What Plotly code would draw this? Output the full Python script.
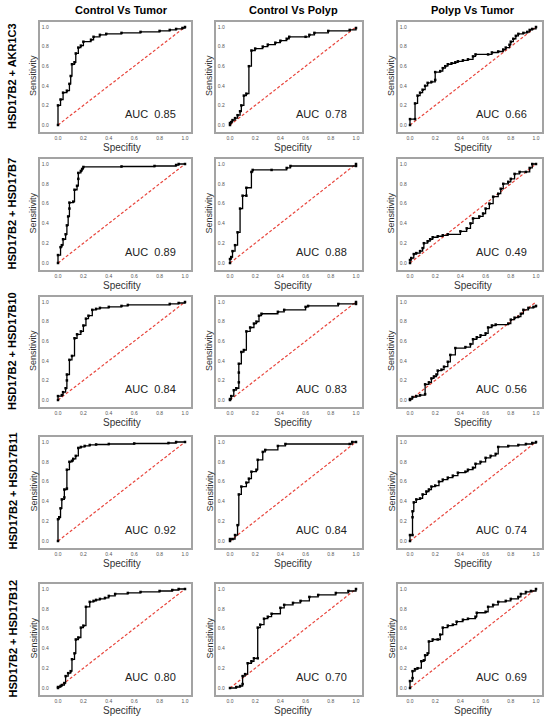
import plotly.graph_objects as go

W, H = 550, 719

comparisons = ['Control Vs Tumor', 'Control Vs Polyp', 'Polyp Vs Tumor']
combinations = ['HSD17B2 + AKR1C3', 'HSD17B2 + HSD17B7', 'HSD17B2 + HSD17B10',
                'HSD17B2 + HSD17B11', 'HSD17B2 + HSD17B12']
auc_values = [[0.85, 0.78, 0.66],
              [0.89, 0.88, 0.49],
              [0.84, 0.83, 0.56],
              [0.92, 0.84, 0.74],
              [0.80, 0.70, 0.69]]
diag = [0, 1]
tick_vals = [0, 0.2, 0.4, 0.6, 0.8, 1.0]
tick_text = ['0.0', '0.2', '0.4', '0.6', '0.8', '1.0']

# ROC steps: x where the step happens, y after the step
akr1c3_ct_x = [0, 0, 0.02, 0.04, 0.07, 0.09, 0.10, 0.11, 0.13, 0.14, 0.16, 0.18, 0.20, 0.26, 0.28, 0.33, 0.38, 0.50, 0.65, 0.80, 0.88, 0.93, 0.98, 1.0]
akr1c3_ct_y = [0, 0.20, 0.26, 0.33, 0.35, 0.42, 0.50, 0.62, 0.64, 0.73, 0.79, 0.81, 0.85, 0.87, 0.90, 0.92, 0.93, 0.94, 0.95, 0.96, 0.97, 0.98, 0.99, 1.0]
akr1c3_cp_x = [0, 0, 0.01, 0.02, 0.04, 0.06, 0.08, 0.09, 0.11, 0.13, 0.15, 0.17, 0.20, 0.26, 0.30, 0.36, 0.40, 0.45, 0.47, 0.60, 0.63, 0.67, 0.78, 0.95, 1.0]
akr1c3_cp_y = [0, 0.02, 0.03, 0.05, 0.07, 0.10, 0.14, 0.20, 0.30, 0.32, 0.60, 0.76, 0.78, 0.80, 0.82, 0.84, 0.86, 0.88, 0.90, 0.90, 0.92, 0.94, 0.96, 0.97, 0.99]
akr1c3_pt_x = [0, 0, 0.04, 0.04, 0.06, 0.08, 0.10, 0.12, 0.14, 0.17, 0.20, 0.20, 0.24, 0.26, 0.28, 0.30, 0.33, 0.36, 0.38, 0.42, 0.46, 0.50, 0.52, 0.62, 0.65, 0.70, 0.74, 0.76, 0.79, 0.80, 0.82, 0.84, 0.86, 0.90, 0.93, 0.95, 0.97, 1.0]
akr1c3_pt_y = [0, 0.06, 0.06, 0.22, 0.30, 0.33, 0.36, 0.40, 0.43, 0.44, 0.46, 0.54, 0.55, 0.58, 0.60, 0.62, 0.63, 0.64, 0.65, 0.66, 0.67, 0.70, 0.72, 0.72, 0.74, 0.75, 0.77, 0.79, 0.82, 0.85, 0.88, 0.91, 0.93, 0.94, 0.95, 0.97, 0.98, 1.0]

b7_ct_x = [0, 0, 0.02, 0.03, 0.04, 0.06, 0.07, 0.08, 0.09, 0.09, 0.12, 0.13, 0.15, 0.16, 0.16, 0.18, 0.19, 0.20, 0.50, 0.76, 0.93, 0.95, 1.0]
b7_ct_y = [0, 0.08, 0.16, 0.18, 0.24, 0.29, 0.38, 0.47, 0.55, 0.61, 0.62, 0.74, 0.78, 0.85, 0.91, 0.93, 0.95, 0.97, 0.975, 0.98, 0.99, 1.0, 1.0]
b7_cp_x = [0, 0, 0.01, 0.02, 0.04, 0.06, 0.08, 0.10, 0.13, 0.13, 0.17, 0.18, 0.33, 0.45, 0.48, 1.0, 1.0]
b7_cp_y = [0, 0.04, 0.06, 0.12, 0.18, 0.31, 0.55, 0.68, 0.68, 0.76, 0.92, 0.94, 0.94, 0.96, 0.98, 0.98, 1.0]
b7_pt_x = [0, 0, 0.01, 0.03, 0.05, 0.08, 0.10, 0.11, 0.14, 0.16, 0.18, 0.22, 0.26, 0.30, 0.40, 0.45, 0.48, 0.50, 0.55, 0.58, 0.60, 0.63, 0.66, 0.70, 0.72, 0.74, 0.78, 0.80, 0.83, 0.87, 0.92, 0.95, 0.97, 1.0]
b7_pt_y = [0, 0.03, 0.05, 0.09, 0.10, 0.12, 0.15, 0.20, 0.22, 0.24, 0.26, 0.27, 0.28, 0.29, 0.32, 0.35, 0.40, 0.45, 0.47, 0.50, 0.55, 0.60, 0.67, 0.70, 0.75, 0.80, 0.82, 0.85, 0.90, 0.92, 0.92, 0.96, 1.0, 1.0]

b10_ct_x = [0, 0, 0.03, 0.04, 0.06, 0.07, 0.07, 0.09, 0.11, 0.13, 0.15, 0.18, 0.20, 0.22, 0.24, 0.27, 0.30, 0.33, 0.40, 0.50, 0.55, 0.88, 0.95, 1.0]
b10_ct_y = [0, 0.04, 0.05, 0.08, 0.12, 0.20, 0.26, 0.41, 0.45, 0.63, 0.67, 0.70, 0.76, 0.83, 0.86, 0.92, 0.93, 0.94, 0.95, 0.96, 0.97, 0.98, 0.99, 1.0]
b10_cp_x = [0, 0, 0.01, 0.03, 0.05, 0.07, 0.07, 0.07, 0.09, 0.11, 0.13, 0.16, 0.19, 0.21, 0.23, 0.25, 0.38, 0.43, 0.60, 0.62, 0.86, 1.0, 1.0]
b10_cp_y = [0, 0.01, 0.04, 0.10, 0.12, 0.18, 0.28, 0.37, 0.49, 0.51, 0.70, 0.74, 0.78, 0.80, 0.86, 0.88, 0.90, 0.92, 0.95, 0.96, 0.98, 0.98, 1.0]
b10_pt_x = [0, 0, 0.02, 0.05, 0.08, 0.12, 0.12, 0.15, 0.17, 0.19, 0.21, 0.22, 0.25, 0.27, 0.30, 0.32, 0.36, 0.44, 0.48, 0.50, 0.53, 0.56, 0.60, 0.62, 0.65, 0.68, 0.78, 0.80, 0.83, 0.86, 0.88, 0.90, 0.94, 0.98, 1.0]
b10_pt_y = [0, 0.01, 0.03, 0.04, 0.05, 0.06, 0.16, 0.18, 0.22, 0.24, 0.26, 0.30, 0.31, 0.34, 0.39, 0.46, 0.53, 0.54, 0.57, 0.62, 0.64, 0.66, 0.68, 0.74, 0.76, 0.77, 0.78, 0.82, 0.84, 0.85, 0.88, 0.92, 0.94, 0.95, 0.96]

b11_ct_x = [0, 0, 0.01, 0.02, 0.03, 0.05, 0.05, 0.07, 0.07, 0.09, 0.11, 0.12, 0.14, 0.16, 0.18, 0.21, 0.25, 0.30, 0.40, 0.60, 0.87, 0.93, 1.0]
b11_ct_y = [0, 0.22, 0.24, 0.33, 0.42, 0.44, 0.52, 0.53, 0.72, 0.80, 0.81, 0.83, 0.86, 0.94, 0.95, 0.96, 0.97, 0.975, 0.98, 0.985, 0.99, 1.0, 1.0]
b11_cp_x = [0, 0, 0.02, 0.04, 0.06, 0.07, 0.09, 0.13, 0.15, 0.17, 0.21, 0.22, 0.26, 0.28, 0.38, 0.44, 0.95, 0.97, 1.0]
b11_cp_y = [0, 0.02, 0.02, 0.06, 0.16, 0.47, 0.55, 0.59, 0.63, 0.70, 0.72, 0.82, 0.90, 0.92, 0.96, 0.98, 0.98, 1.0, 1.0]
b11_pt_x = [0, 0, 0.02, 0.02, 0.02, 0.03, 0.05, 0.08, 0.10, 0.13, 0.15, 0.17, 0.20, 0.23, 0.26, 0.30, 0.34, 0.38, 0.44, 0.46, 0.50, 0.52, 0.56, 0.60, 0.64, 0.68, 0.70, 0.78, 0.86, 0.92, 0.97, 1.0]
b11_pt_y = [0, 0.06, 0.06, 0.24, 0.30, 0.39, 0.42, 0.43, 0.47, 0.50, 0.52, 0.55, 0.56, 0.60, 0.62, 0.64, 0.66, 0.69, 0.70, 0.72, 0.74, 0.78, 0.80, 0.84, 0.86, 0.88, 0.95, 0.96, 0.97, 0.98, 0.99, 1.0]

b12_ct_x = [0, 0, 0.02, 0.03, 0.05, 0.06, 0.08, 0.10, 0.11, 0.13, 0.14, 0.16, 0.18, 0.20, 0.22, 0.25, 0.28, 0.30, 0.33, 0.37, 0.40, 0.45, 0.55, 0.65, 0.80, 0.90, 0.95, 1.0]
b12_ct_y = [0, 0.01, 0.02, 0.03, 0.05, 0.12, 0.15, 0.17, 0.29, 0.35, 0.49, 0.51, 0.61, 0.63, 0.82, 0.87, 0.88, 0.89, 0.90, 0.91, 0.93, 0.95, 0.96, 0.97, 0.98, 0.99, 1.0, 1.0]
b12_cp_x = [0, 0.05, 0.08, 0.10, 0.10, 0.12, 0.14, 0.17, 0.19, 0.22, 0.22, 0.24, 0.27, 0.30, 0.33, 0.40, 0.43, 0.50, 0.56, 0.63, 0.70, 0.84, 0.94, 1.0]
b12_cp_y = [0, 0.01, 0.02, 0.04, 0.12, 0.14, 0.25, 0.27, 0.30, 0.30, 0.61, 0.64, 0.70, 0.72, 0.75, 0.81, 0.84, 0.86, 0.88, 0.92, 0.94, 0.96, 0.98, 1.0]
b12_pt_x = [0, 0, 0.02, 0.02, 0.04, 0.06, 0.09, 0.11, 0.12, 0.14, 0.15, 0.18, 0.22, 0.24, 0.26, 0.30, 0.34, 0.37, 0.42, 0.46, 0.52, 0.53, 0.60, 0.62, 0.66, 0.70, 0.76, 0.80, 0.86, 0.88, 0.92, 0.96, 1.0]
b12_pt_y = [0, 0.07, 0.10, 0.17, 0.19, 0.20, 0.27, 0.28, 0.33, 0.35, 0.47, 0.49, 0.49, 0.54, 0.61, 0.63, 0.64, 0.67, 0.69, 0.70, 0.72, 0.76, 0.77, 0.82, 0.84, 0.87, 0.88, 0.90, 0.92, 0.95, 0.97, 0.98, 1.0]

curves = [[(akr1c3_ct_x, akr1c3_ct_y), (akr1c3_cp_x, akr1c3_cp_y), (akr1c3_pt_x, akr1c3_pt_y)],
          [(b7_ct_x, b7_ct_y), (b7_cp_x, b7_cp_y), (b7_pt_x, b7_pt_y)],
          [(b10_ct_x, b10_ct_y), (b10_cp_x, b10_cp_y), (b10_pt_x, b10_pt_y)],
          [(b11_ct_x, b11_ct_y), (b11_cp_x, b11_cp_y), (b11_pt_x, b11_pt_y)],
          [(b12_ct_x, b12_ct_y), (b12_cp_x, b12_cp_y), (b12_pt_x, b12_pt_y)]]

# pixel geometry of each panel (where 0 and 1 fall)
COL_X = [(58, 185), (230, 356), (410, 536)]
ROW_Y = [(27, 125), (164, 263), (302, 400), (442, 541), (589, 688)]
PAD_L = [18, 14, 12]
PAD_R, PAD_T, PAD_B = 6, 5, 7
FONT = '"Liberation Sans", Arial, sans-serif'


def label(x, y, text, size, color, angle=0):
    return dict(xref='paper', yref='paper', x=x / W, y=1 - y / H, text=text,
                textangle=angle, showarrow=False, xanchor='center', yanchor='middle',
                font=dict(size=size, color=color, family=FONT))


fig = go.Figure()
layout = {}
annotations = []

for r in range(5):
    y1px, y0px = ROW_Y[r]
    for c in range(3):
        x0px, x1px = COL_X[c]
        k = r * 3 + c + 1
        xa = 'x' if k == 1 else f'x{k}'
        ya = 'y' if k == 1 else f'y{k}'
        fx, fy = curves[r][c]
        fig.add_trace(go.Scatter(x=diag, y=diag, mode='lines', xaxis=xa, yaxis=ya,
                                 line=dict(color='#e8453c', width=1.2, dash='3px,2px'),
                                 showlegend=False, hoverinfo='skip'))
        fig.add_trace(go.Scatter(x=fx, y=fy, mode='lines+markers', xaxis=xa, yaxis=ya,
                                 line=dict(color='black', width=1.3, shape='hv'),
                                 marker=dict(symbol='square', size=2.5, color='black'),
                                 showlegend=False))
        w = x1px - x0px
        h = y0px - y1px
        ax_common = dict(showline=True, mirror=True, linecolor='#a3a3a3', linewidth=1.5,
                         showgrid=False, zeroline=False, tickvals=tick_vals, ticktext=tick_text,
                         tickfont=dict(size=5, color='#555555', family=FONT), ticks='')
        layout['xaxis' if k == 1 else f'xaxis{k}'] = dict(
            ax_common, anchor=ya,
            range=[-PAD_L[c] / w, 1 + PAD_R / w],
            domain=[(x0px - PAD_L[c]) / W, (x1px + PAD_R) / W])
        layout['yaxis' if k == 1 else f'yaxis{k}'] = dict(
            ax_common, anchor=xa, ticklabelposition='inside',
            range=[-PAD_B / h, 1 + PAD_T / h],
            domain=[1 - (y0px + PAD_B) / H, 1 - (y1px - PAD_T) / H])
        annotations.append(dict(xref=xa, yref=ya, x=0.73, y=0.11, xanchor='center',
                                yanchor='middle',
                                text=f'AUC\u00a0\u00a0{auc_values[r][c]:.2f}', showarrow=False,
                                font=dict(size=11, color='#222222', family=FONT)))
        annotations.append(label(x0px - PAD_L[c] - 7, (y0px + y1px) / 2, 'Sensitivity',
                                 9, '#333333', -90))
        annotations.append(label((x0px + x1px) / 2, y0px + PAD_B + 15, 'Specifity',
                                 10, '#333333'))

for c, name in enumerate(comparisons):
    annotations.append(label((COL_X[c][0] + COL_X[c][1]) / 2, 10, f'<b>{name}</b>', 11, 'black'))
for r, name in enumerate(combinations):
    annotations.append(label(12, (ROW_Y[r][0] + ROW_Y[r][1]) / 2, f'<b>{name}</b>', 11,
                             'black', -90))

fig.update_layout(**layout)
fig.update_layout(annotations=annotations, width=W, height=H,
                  margin=dict(l=0, r=0, t=0, b=0),
                  paper_bgcolor='white', plot_bgcolor='white', font=dict(family=FONT))
# page body has a default 8px margin; drop it so the figure fills the window
fig.write_html('out.html', config={'displayModeBar': False},
               post_script="document.body.style.margin='0px';")
